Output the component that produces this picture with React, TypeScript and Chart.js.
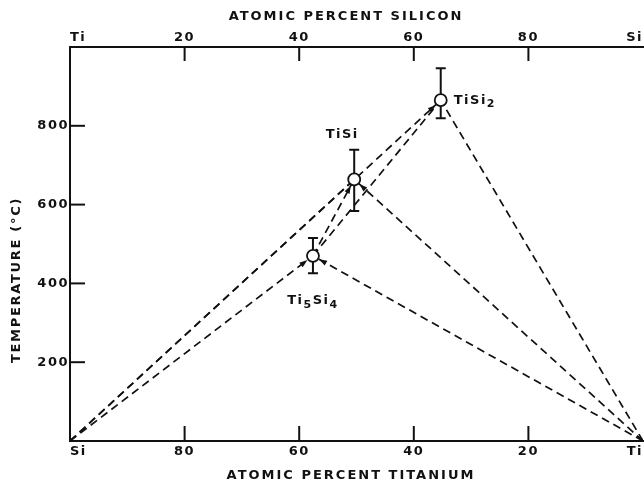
import React, { useEffect, useRef } from 'react';
import { Chart, registerables } from 'chart.js';

Chart.register(...registerables);

// Silicide phases: composition (at.% Si) and formation temperature with its spread
const phaseNames = ['Ti5Si4', 'TiSi', 'TiSi2'];
const phaseSiPercent = [42.4, 49.6, 64.7];
const phaseTemp = [470, 664, 865];
const phaseTempHigh = [515, 739, 946];
const phaseTempLow = [426, 584, 819];

// Pure end members at the foot of the diagram
const endNames = ['Si', 'Ti'];
const endSiPercent = [0, 100];
const endTemp = [0, 0];

// Dashed tie lines (from -> to); flagged ones carry an arrowhead at the "to" end
const linkFrom = ['Si', 'Si', 'Si', 'Ti5Si4', 'Ti5Si4', 'Ti', 'Ti', 'Ti'];
const linkTo = ['TiSi2', 'TiSi', 'Ti5Si4', 'TiSi', 'TiSi2', 'TiSi2', 'TiSi', 'Ti5Si4'];
const linkArrow = [true, false, true, true, false, false, true, true];

// Axis labelling
const compTicks = [0, 20, 40, 60, 80, 100];
const siliconTickLabels = ['Ti', '20', '40', '60', '80', 'Si'];
const titaniumTickLabels = ['Si', '80', '60', '40', '20', 'Ti'];
const tempTicks = [200, 400, 600, 800];
const topTitle = 'ATOMIC PERCENT SILICON';
const bottomTitle = 'ATOMIC PERCENT TITANIUM';
const tempTitle = 'TEMPERATURE (°C)';

const INK = '#111';
const FONT_FAMILY = '"DejaVu Sans", "Liberation Sans", sans-serif';

function locate(name: string) {
  const p = phaseNames.indexOf(name);
  if (p >= 0) return { x: phaseSiPercent[p], y: phaseTemp[p] };
  const e = endNames.indexOf(name);
  return { x: endSiPercent[e], y: endTemp[e] };
}

// where each phase name sits relative to its marker
const labelPlacement: Record<string, { dx: number; dy: number; align: 'left' | 'center' }> = {
  Ti5Si4: { dx: 0, dy: 45, align: 'center' },
  TiSi: { dx: -12, dy: -45, align: 'center' },
  TiSi2: { dx: 13, dy: 0, align: 'left' },
};

function drawFormula(ctx: CanvasRenderingContext2D, text: string, x: number, y: number, align: 'left' | 'center') {
  const parts = text.match(/\d+|\D+/g) || [];
  const mainFont = `bold 13px ${FONT_FAMILY}`;
  const subFont = `bold 11px ${FONT_FAMILY}`;
  let total = 0;
  const widths = parts.map((part) => {
    ctx.font = /\d/.test(part) ? subFont : mainFont;
    const w = ctx.measureText(part).width;
    total += w;
    return w;
  });
  let cx = align === 'center' ? x - total / 2 : x;
  ctx.textAlign = 'left';
  ctx.textBaseline = 'middle';
  parts.forEach((part, i) => {
    const isSub = /\d/.test(part);
    ctx.font = isSub ? subFont : mainFont;
    ctx.fillText(part, cx, isSub ? y + 4 : y);
    cx += widths[i];
  });
}

const decorPlugin = {
  id: 'silicideDecor',
  beforeDraw(chart: any) {
    chart.ctx.letterSpacing = '1.5px';
  },
  beforeDatasetsDraw(chart: any) {
    const { ctx, scales } = chart;
    ctx.save();
    ctx.strokeStyle = INK;
    ctx.lineWidth = 2;
    phaseNames.forEach((_, i) => {
      const px = scales.x.getPixelForValue(phaseSiPercent[i]);
      const hi = scales.y.getPixelForValue(phaseTempHigh[i]);
      const lo = scales.y.getPixelForValue(phaseTempLow[i]);
      ctx.beginPath();
      ctx.moveTo(px, hi);
      ctx.lineTo(px, lo);
      ctx.moveTo(px - 5, hi);
      ctx.lineTo(px + 5, hi);
      ctx.moveTo(px - 5, lo);
      ctx.lineTo(px + 5, lo);
      ctx.stroke();
    });
    ctx.restore();
  },
  afterDatasetsDraw(chart: any) {
    const { ctx, scales, chartArea } = chart;
    ctx.save();
    ctx.strokeStyle = INK;
    ctx.fillStyle = INK;
    ctx.lineWidth = 2;

    // tick marks point into the plotting field
    compTicks.slice(1, -1).forEach((v) => {
      const bx = scales.x.getPixelForValue(v);
      ctx.beginPath();
      ctx.moveTo(bx, chartArea.bottom);
      ctx.lineTo(bx, chartArea.bottom - 15);
      ctx.stroke();
      const tx = scales.x2.getPixelForValue(v);
      ctx.beginPath();
      ctx.moveTo(tx, chartArea.top);
      ctx.lineTo(tx, chartArea.top + 14);
      ctx.stroke();
    });
    tempTicks.forEach((v) => {
      const py = scales.y.getPixelForValue(v);
      ctx.beginPath();
      ctx.moveTo(chartArea.left, py);
      ctx.lineTo(chartArea.left + 15, py);
      ctx.stroke();
    });

    // arrowheads where tie lines meet a phase
    linkFrom.forEach((from, i) => {
      if (!linkArrow[i]) return;
      const a = locate(from);
      const b = locate(linkTo[i]);
      const sx = scales.x.getPixelForValue(a.x);
      const sy = scales.y.getPixelForValue(a.y);
      const ex = scales.x.getPixelForValue(b.x);
      const ey = scales.y.getPixelForValue(b.y);
      const len = Math.hypot(ex - sx, ey - sy);
      const ux = (ex - sx) / len;
      const uy = (ey - sy) / len;
      const tipX = ex - ux * 7;
      const tipY = ey - uy * 7;
      const baseX = tipX - ux * 8;
      const baseY = tipY - uy * 8;
      ctx.beginPath();
      ctx.moveTo(tipX, tipY);
      ctx.lineTo(baseX - uy * 2.8, baseY + ux * 2.8);
      ctx.lineTo(baseX + uy * 2.8, baseY - ux * 2.8);
      ctx.closePath();
      ctx.fill();
    });

    // phase names
    phaseNames.forEach((name, i) => {
      const place = labelPlacement[name];
      const px = scales.x.getPixelForValue(phaseSiPercent[i]);
      const py = scales.y.getPixelForValue(phaseTemp[i]);
      drawFormula(ctx, name, px + place.dx, py + place.dy, place.align);
    });
    ctx.restore();
  },
  afterDraw(chart: any) {
    const { ctx } = chart;
    ctx.save();
    ctx.fillStyle = INK;
    ctx.font = `bold 13px ${FONT_FAMILY}`;
    ctx.letterSpacing = '2px';
    ctx.textAlign = 'center';
    ctx.textBaseline = 'middle';
    ctx.fillText(topTitle, 346, 17);
    ctx.fillText(bottomTitle, 351, 476);
    ctx.translate(17, 280);
    ctx.rotate(-Math.PI / 2);
    ctx.letterSpacing = '1.7px';
    ctx.fillText(tempTitle, 0, 0);
    ctx.restore();
  },
};

function noPadding(scale: any) {
  scale.paddingLeft = 0;
  scale.paddingRight = 0;
  scale.paddingTop = 0;
  scale.paddingBottom = 0;
}

export default function App() {
  const canvasRef = useRef<HTMLCanvasElement | null>(null);

  useEffect(() => {
    const canvas = canvasRef.current;
    if (!canvas) return;

    const linkDatasets = linkFrom.map((from, i) => ({
      data: [locate(from), locate(linkTo[i])],
      showLine: true,
      borderColor: INK,
      borderWidth: 1.7,
      borderDash: [8, 5],
      pointRadius: 0,
      fill: false,
      order: 2,
    }));

    const phaseDataset = {
      data: phaseSiPercent.map((x, i) => ({ x, y: phaseTemp[i] })),
      showLine: false,
      pointRadius: 6,
      pointBackgroundColor: '#fff',
      pointBorderColor: INK,
      pointBorderWidth: 1.8,
      order: 0,
    };

    const tickFont = { family: FONT_FAMILY, size: 13, weight: 'bold' as const };

    const chart = new Chart(canvas, {
      type: 'scatter',
      data: { datasets: [...linkDatasets, phaseDataset] as any },
      options: {
        animation: false,
        responsive: false,
        events: [],
        layout: { autoPadding: false, padding: { left: 0, right: 1, top: 0, bottom: 0 } },
        plugins: { legend: { display: false }, tooltip: { enabled: false } },
        scales: {
          x: {
            type: 'linear',
            position: 'bottom',
            min: 0,
            max: 100,
            grid: { display: false, drawTicks: false },
            border: { display: true, color: INK, width: 2 },
            ticks: {
              stepSize: 20,
              align: 'inner',
              padding: 3,
              color: INK,
              font: tickFont,
              maxRotation: 0,
              callback: (v: any) => titaniumTickLabels[compTicks.indexOf(Number(v))] ?? '',
            },
            afterFit: (s: any) => {
              s.height = 46;
              noPadding(s);
            },
          },
          x2: {
            type: 'linear',
            position: 'top',
            min: 0,
            max: 100,
            grid: { display: false, drawTicks: false },
            border: { display: true, color: INK, width: 2 },
            ticks: {
              stepSize: 20,
              align: 'inner',
              padding: 2,
              color: INK,
              font: tickFont,
              maxRotation: 0,
              callback: (v: any) => siliconTickLabels[compTicks.indexOf(Number(v))] ?? '',
            },
            afterFit: (s: any) => {
              s.height = 47;
              noPadding(s);
            },
          },
          y: {
            type: 'linear',
            min: 0,
            max: 1000,
            grid: { display: false, drawTicks: false },
            border: { display: true, color: INK, width: 2 },
            ticks: {
              stepSize: 200,
              padding: 1,
              color: INK,
              font: tickFont,
              callback: (v: any) => (tempTicks.includes(Number(v)) ? String(v) : ''),
            },
            afterFit: (s: any) => {
              s.width = 70;
              noPadding(s);
            },
          },
        },
      } as any,
      plugins: [decorPlugin],
    });

    return () => chart.destroy();
  }, []);

  return (
    <div style={{ position: 'absolute', left: 0, top: 0, width: 644, height: 487, background: '#fff' }}>
      <canvas ref={canvasRef} width={644} height={487} />
    </div>
  );
}
